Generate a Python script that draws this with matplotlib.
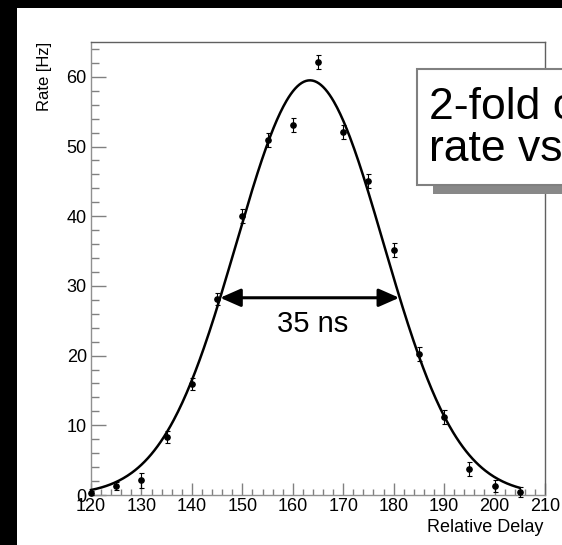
import matplotlib
matplotlib.use("Agg")
import matplotlib.pyplot as plt
import numpy as np
from matplotlib.patches import Rectangle, FancyArrowPatch
from matplotlib.ticker import MultipleLocator

plt.rcParams['font.family'] = ['Liberation Sans', 'DejaVu Sans']

# ---- data ----
delay = [120, 125, 130, 135, 140, 145, 150, 155, 160, 165, 170, 175, 180, 185, 190, 195, 200, 205]
rate = [0.3, 1.3, 2.1, 8.3, 15.9, 28.1, 40.0, 50.9, 53.1, 62.1, 52.1, 45.0, 35.2, 20.2, 11.2, 3.7, 1.3, 0.4]
rate_err = [0.3, 0.6, 1.1, 0.9, 0.9, 0.9, 1.0, 1.0, 1.0, 1.0, 1.0, 1.0, 1.0, 1.0, 1.0, 1.0, 0.9, 0.7]

# Gaussian fit parameters
fit_amp = 59.5
fit_mean = 163.4
fit_sigma = 14.6
fit_range = (120, 205)

fwhm_label = "35 ns"
fwhm_x = (145.6, 181.1)
fwhm_y = 28.3

box_lines = ["2-fold coincidence", "rate vs delay"]
x_ticks = list(range(120, 211, 10))
y_ticks = list(range(0, 61, 10))

W, H = 562, 545
fig = plt.figure(figsize=(W / 100, H / 100), dpi=100)
fig.patch.set_facecolor('black')

def fx(px):
    return px / W

def fy(py):
    return 1 - py / H

# white slide area
fig.add_artist(Rectangle((fx(17), 0), 1 - fx(17), fy(8), transform=fig.transFigure,
                         facecolor='white', edgecolor='none', zorder=0))

ax = fig.add_axes([fx(91), fy(495), fx(545) - fx(91), fy(42) - fy(495)])
ax.set_facecolor('white')
ax.set_xlim(120, 210)
ax.set_ylim(0, 65)

xs = np.linspace(fit_range[0], fit_range[1], 400)
ax.plot(xs, fit_amp * np.exp(-0.5 * ((xs - fit_mean) / fit_sigma) ** 2),
        color='black', lw=1.8, zorder=3, clip_on=False)
ax.errorbar(delay, rate, yerr=rate_err, fmt='o', color='black', ms=3.8,
            elinewidth=0.8, capsize=1.8, capthick=0.8, zorder=4, clip_on=False)

arr = FancyArrowPatch((fwhm_x[0], fwhm_y), (fwhm_x[1], fwhm_y),
                      arrowstyle='<|-|>,head_length=1.25,head_width=0.55',
                      mutation_scale=10, lw=2.2, color='black',
                      shrinkA=0, shrinkB=0, zorder=5)
ax.add_patch(arr)
fig.text(fx(313), fy(324), fwhm_label, ha='center', va='center',
         fontsize=21, color='black')

ax.xaxis.set_major_locator(MultipleLocator(10))
ax.xaxis.set_minor_locator(MultipleLocator(2))
ax.yaxis.set_major_locator(MultipleLocator(10))
ax.yaxis.set_minor_locator(MultipleLocator(2))
ax.set_xticks(x_ticks)
ax.set_yticks(y_ticks)

ax.tick_params(axis='both', which='both', direction='in', colors='#808080',
               labelcolor='black', labelsize=13, width=1)
ax.tick_params(axis='y', which='major', length=10.5, pad=3)
ax.tick_params(axis='y', which='minor', length=5.5)
ax.tick_params(axis='x', which='major', length=9, pad=2)
ax.tick_params(axis='x', which='minor', length=4.5)
for s in ax.spines.values():
    s.set_color('#606060')
    s.set_linewidth(1)
ax.spines['left'].set_color('#909090')
ax.spines['bottom'].set_color('#909090')

fig.text(fx(543), fy(527), "Relative Delay", ha='right', va='center', fontsize=13)
fig.text(fx(44), fy(42), "Rate [Hz]", ha='center', va='top', rotation=90, fontsize=12)

# text box with shadow
fig.add_artist(Rectangle((fx(433), fy(194)), fx(700) - fx(433), fy(185) - fy(194),
                         transform=fig.transFigure, facecolor='#888888',
                         edgecolor='none', zorder=6))
fig.add_artist(Rectangle((fx(417), fy(185)), fx(700) - fx(417), fy(69) - fy(185),
                         transform=fig.transFigure, facecolor='white',
                         edgecolor='#808080', lw=1.5, zorder=7))
fig.text(fx(429), fy(119), box_lines[0], ha='left', va='baseline', fontsize=32, zorder=8)
fig.text(fx(429), fy(161), box_lines[1], ha='left', va='baseline', fontsize=32, zorder=8)

fig.savefig("out.png", dpi=100, facecolor=fig.get_facecolor())
